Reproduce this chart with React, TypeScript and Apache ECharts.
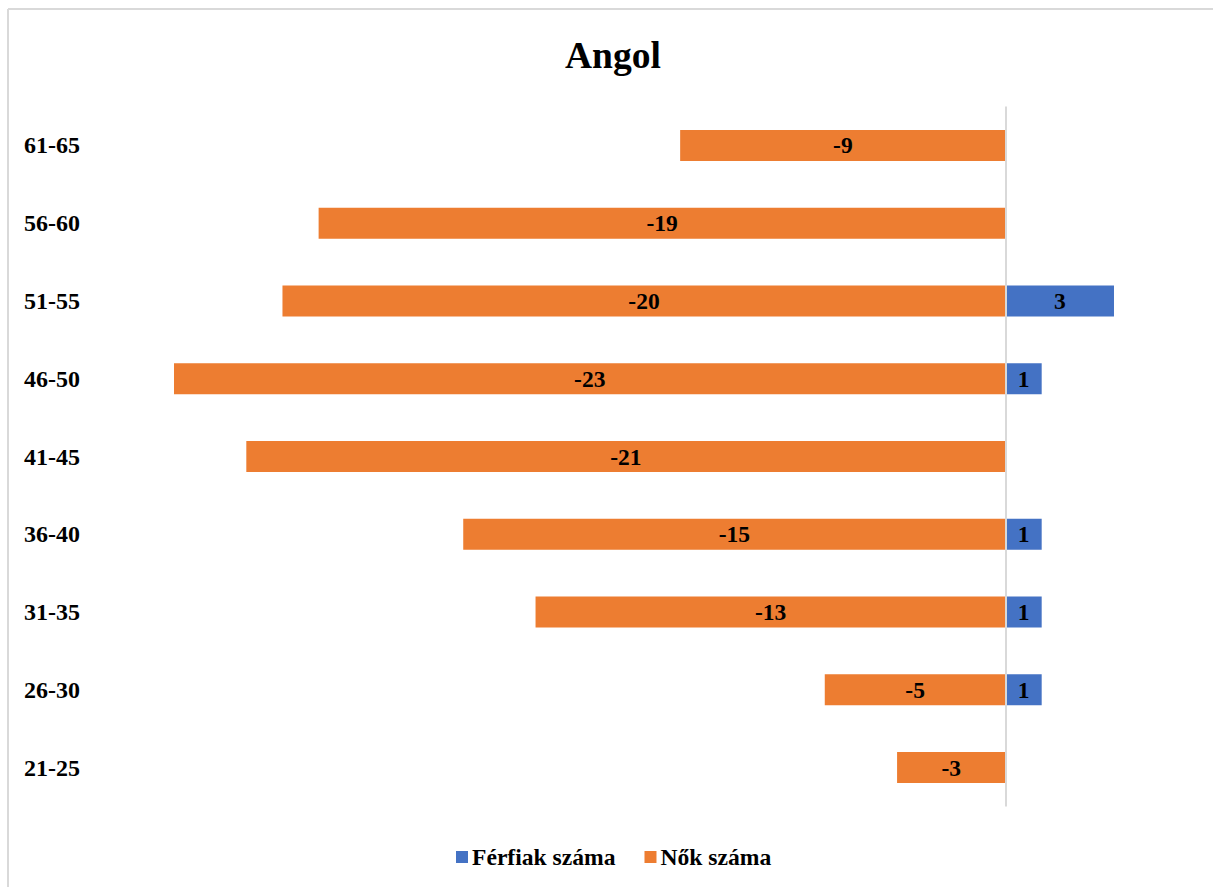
import React, { useEffect, useRef } from "react";
import * as echarts from "echarts";

const categories = ["21-25", "26-30", "31-35", "36-40", "41-45", "46-50", "51-55", "56-60", "61-65"];
const menValues = [0, 1, 1, 1, 0, 1, 3, 0, 0];
const womenValues = [-3, -5, -13, -15, -21, -23, -20, -19, -9];
const seriesNames = ["Férfiak száma", "Nők száma"];
const titleText = "Angol";

const FONT = '"Liberation Serif", "Times New Roman", serif';

export default function App() {
  const ref = useRef<HTMLDivElement>(null);
  useEffect(() => {
    if (!ref.current) return;
    const chart = echarts.init(ref.current, undefined, { renderer: "svg" });
    const labelCfg = {
      show: true,
      position: "inside",
      color: "#000",
      fontFamily: FONT,
      fontWeight: "bold",
      fontSize: 23.5,
      formatter: (p: any) => (p.value === 0 ? "" : String(p.value)),
    };
    chart.setOption({
      animation: false,
      backgroundColor: "#fff",
      title: {
        text: titleText,
        left: 560,
        top: 31,
        textStyle: { fontFamily: FONT, fontWeight: "bold", fontSize: 37.5, color: "#000" },
      },
      legend: {
        data: seriesNames,
        left: 451,
        top: 840,
        icon: "rect",
        itemWidth: 12,
        itemHeight: 12,
        itemGap: 29,
        textStyle: { fontFamily: FONT, fontWeight: "bold", fontSize: 23.6, color: "#000", padding: [0, 0, 0, -1] },
      },
      grid: { left: 101.7, right: 26.7, top: 106.6, bottom: 80.6, containLabel: false },
      xAxis: {
        type: "value",
        min: -25,
        max: 5,
        show: false,
      },
      yAxis: {
        type: "category",
        data: categories,
        axisLine: { show: false },
        axisTick: { show: false },
        splitLine: { show: false },
        axisLabel: {
          align: "left",
          margin: 77.7,
          fontFamily: FONT,
          fontWeight: "bold",
          fontSize: 24,
          color: "#000",
        },
      },
      graphic: [
        { type: "line", shape: { x1: 8, y1: 9, x2: 1213, y2: 9 }, style: { stroke: "#d9d9d9", lineWidth: 2 } },
        { type: "line", shape: { x1: 8, y1: 9, x2: 8, y2: 887 }, style: { stroke: "#d9d9d9", lineWidth: 2 } },
      ],
      series: [
        {
          name: seriesNames[0],
          type: "bar",
          stack: "total",
          data: menValues,
          barWidth: 31,
          itemStyle: { color: "#4472C4" },
          label: labelCfg,
          markLine: {
            silent: true,
            symbol: "none",
            label: { show: false },
            lineStyle: { color: "#d9d9d9", width: 2, type: "solid" },
            data: [{ xAxis: 0 }],
          },
        },
        {
          name: seriesNames[1],
          type: "bar",
          stack: "total",
          data: womenValues,
          barWidth: 31,
          itemStyle: { color: "#ED7D31" },
          label: labelCfg,
        },
      ],
    });
    return () => chart.dispose();
  }, []);
  return <div ref={ref} style={{ position: "fixed", left: 0, top: 0, width: 1213, height: 887 }} />;
}
